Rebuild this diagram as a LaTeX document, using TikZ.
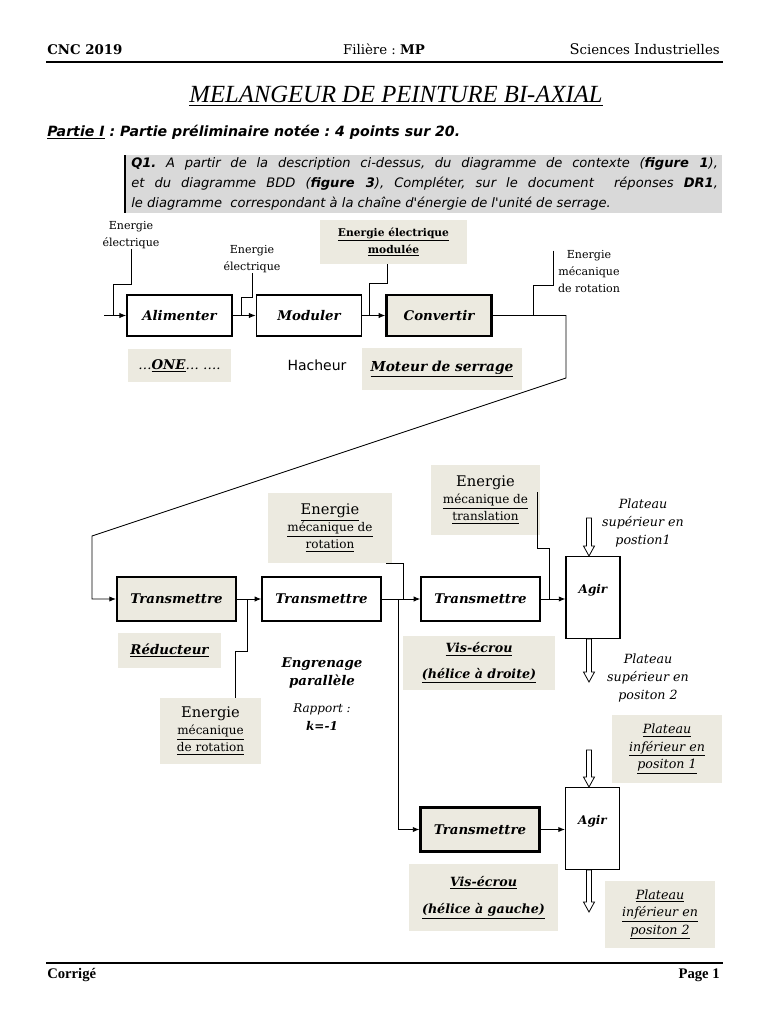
\documentclass[tikz,border=0pt]{standalone}
\usepackage{fontspec}
\setmainfont{DejaVu Serif}
\newfontfamily\titrefont{Liberation Serif}
\newfontfamily\gothfont{DejaVu Sans}
\usetikzlibrary{calc}
\usetikzlibrary{arrows.meta}
\frenchspacing

\definecolor{fond}{RGB}{236,234,224}
\definecolor{grisq}{RGB}{217,217,217}

\tikzset{
  fct/.style={draw,line width=1.3pt,minimum width=78.75pt,minimum height=30.75pt,inner sep=1pt,font=\fontsize{10}{12}\selectfont\bfseries\itshape},
  trans/.style={fct,minimum width=89pt,minimum height=33pt},
  gris/.style={fill=fond,line width=1.8pt},
  agir/.style={draw,line width=.8pt,minimum width=40.5pt,minimum height=62pt,inner sep=0pt},
  etiq/.style={fill=fond,inner sep=0pt,align=center},
  petit/.style={align=center,inner sep=0pt,font=\fontsize{8.3}{12.75}\selectfont},
  fil/.style={line width=.7pt},
  fleche/.style={fil,-{Latex[length=5pt,width=4pt]}},
  creux/.style={line width=.6pt,fill=white},
}

\begin{document}
\begin{tikzpicture}[x=0.75pt,y=-0.75pt]
\useasboundingbox (0,0) rectangle (768,1024);

% en-tete
\node[anchor=base west,inner sep=0pt,font=\fontsize{10}{12}\selectfont\bfseries] (cnc) at (47,55) {CNC 2019};
\node[anchor=base,inner sep=0pt,font=\fontsize{10}{12}\selectfont] (filiere) at (384,55) {Filière : \textbf{MP}};
\node[anchor=base east,inner sep=0pt,font=\fontsize{10}{12}\selectfont] (sci) at (720,55) {{\fontsize{11}{12}\selectfont S}ciences {\fontsize{11}{12}\selectfont I}ndustrielles};
\draw[line width=1pt] (46,62) -- (723,62);

\node[anchor=base,inner sep=0pt,font=\titrefont\itshape\fontsize{18.5}{20}\selectfont] (titre) at (396,103) {\underline{MELANGEUR DE PEINTURE BI-AXIAL}};
\node[anchor=base west,inner sep=0pt,font=\gothfont\bfseries\itshape\fontsize{10.6}{12}\selectfont] (partie) at (47,136) {\underline{Partie I} : Partie préliminaire notée : 4 points sur 20.};

% question
\fill[grisq] (125,155) rectangle (722,213);
\draw[line width=1.5pt] (125,155) -- (125,213);
\node[anchor=north west,text width=440pt,align=justify,inner sep=0pt,font=\gothfont\itshape\fontsize{9.8}{15}\selectfont] (q1) at (131,157) {\hyphenpenalty=10000 \textbf{Q1.} A partir de la description ci-dessus, du diagramme de contexte (\textbf{figure 1}),\linebreak et du diagramme BDD (\textbf{figure 3}), Compléter, sur le document~ réponses \textbf{DR1},\linebreak le diagramme~ correspondant à la chaîne d'énergie de l'unité de serrage.};

% chaine du haut
\coordinate (in) at (104,315.5);
\coordinate (jA) at (113,315.5);
\coordinate (jB) at (241,315.5);
\coordinate (jC) at (369,315.5);
\coordinate (jD) at (533,315.5);
\coordinate (c1) at (566,315.5);
\coordinate (c2) at (566,378);
\coordinate (c3) at (92,536);

\node[fct] (alim) at (179.5,315.5) {Alimenter};
\node[fct] (modul) at (309,315.5) {Moduler};
\node[fct,gris] (conv) at (439,315.5) {Convertir};

\node[petit] (ee1) at (131,235) {Energie\\électrique};
\node[petit] (ee2) at (252,259) {Energie\\électrique};
\node[etiq,minimum width=110pt,minimum height=33pt,font=\bfseries\fontsize{8}{12.75}\selectfont] (eem) at (393.5,242) {\underline{Energie électrique}\\\underline{modulée}};
\node[petit] (emr0) at (589,272) {Energie\\mécanique\\de rotation};

\draw[fleche] (in) -- (alim);
\draw[fleche] (alim) -- (modul);
\draw[fleche] (modul) -- (conv);
\draw[fil] (ee1.south) |- (113,284) -- (jA);
\draw[fil] (ee2.south) |- (241,297) -- (jB);
\draw[fil] ([xshift=-4.9pt]eem.south) |- (369,283) -- (jC);
\draw[fil] ([xshift=-3pt]emr0.north west) |- (533,285) -- (jD);

\node[etiq,minimum width=77pt,minimum height=25pt,font=\itshape\fontsize{10}{12}\selectfont] (one) at (179.5,365.5) {\ldots\underline{\textbf{ONE}}\ldots\ \ldots.};
\node[inner sep=0pt,font=\gothfont\fontsize{10.5}{12}\selectfont] (hach) at (317,365) {Hacheur};
\node[etiq,minimum width=120pt,minimum height=31.5pt,font=\bfseries\itshape\fontsize{10.3}{12}\selectfont] (moteur) at (442,369) {\underline{Moteur de serrage}};

% chaine du bas
\node[trans,gris] (trA) at (176.5,599) {Transmettre};
\node[trans] (trB) at (321.5,599) {Transmettre};
\node[trans] (trC) at (480.5,599) {Transmettre};
\node[agir,label={[font=\bfseries\itshape\fontsize{9}{11}\selectfont,yshift=5.6pt]center:Agir}] (agirA) at (593,597.5) {};
\node[trans,gris] (trD) at (480,829.5) {Transmettre};
\node[agir,label={[font=\bfseries\itshape\fontsize{9}{11}\selectfont,yshift=5.6pt]center:Agir}] (agirB) at (592.5,828.5) {};

\coordinate (jE) at (247,599);
\coordinate (jH) at (398,599);
\coordinate (jF) at (403,599);
\coordinate (jG) at (549,599);

\draw[fleche] (conv.east) -- (c1) -- (c2) -- (c3) |- (trA.west);
\draw[fleche] (trA) -- (trB);
\draw[fleche] (trB) -- (trC);
\draw[fleche] (trC.east) -- (trC.east -| agirA.west);
\draw[fleche] (jH) |- (trD.west);
\draw[fleche] (trD.east) -- (trD.east -| agirB.west);

\node[etiq,minimum width=93pt,minimum height=52.5pt,font=\fontsize{9}{12.75}\selectfont] (emr1) at (330,528) {{\fontsize{11}{12.75}\selectfont\underline{Energie}}\\\underline{mécanique de}\\\underline{rotation}};
\node[etiq,minimum width=82pt,minimum height=52.5pt,font=\fontsize{9}{12.75}\selectfont] (emt) at (485.5,500) {{\fontsize{11}{12.75}\selectfont Energie}\\\underline{mécanique de}\\\underline{translation}};
\node[etiq,minimum width=77pt,minimum height=26pt,font=\bfseries\itshape\fontsize{10}{12}\selectfont] (reduc) at (169.5,650.5) {\underline{Réducteur}};
\node[etiq,minimum width=76pt,minimum height=49.5pt,font=\fontsize{9}{12.75}\selectfont] (emr2) at (210.5,731) {{\fontsize{11}{12.75}\selectfont Energie}\\\underline{mécanique}\\\underline{de rotation}};

\draw[fil] ([xshift=-4.5pt]emr1.south east) -| (jF);
\draw[fil] ([xshift=-2.2pt,yshift=6pt]emt.east) |- (549,548) -- (jG);
\draw[fil] ([xshift=18.4pt]emr2.north) |- (247,651) -- (jE);

\node[align=center,inner sep=0pt,font=\bfseries\itshape\fontsize{10}{13.5}\selectfont] (engr) at (322,673) {Engrenage\\parallèle};
\node[align=center,inner sep=0pt,font=\itshape\fontsize{9}{13.5}\selectfont] (rapport) at (322,717) {Rapport :\\\textbf{k=-1}};

\node[etiq,minimum width=114pt,minimum height=40.5pt,font=\bfseries\itshape\fontsize{9.5}{19.5}\selectfont] (visd) at (479,663) {\underline{Vis-écrou}\\\underline{(hélice à droite)}};
\node[etiq,minimum width=112pt,minimum height=50pt,font=\bfseries\itshape\fontsize{9.5}{20}\selectfont] (visg) at (483.5,897.5) {\underline{Vis-écrou}\\\underline{(hélice à gauche)}};

\node[align=center,inner sep=0pt,font=\itshape\fontsize{9.5}{13.5}\selectfont] (psup1) at (643,523) {Plateau\\supérieur en\\postion1};
\node[align=center,inner sep=0pt,font=\itshape\fontsize{9.5}{13.5}\selectfont] (psup2) at (648,678) {Plateau\\supérieur en\\positon 2};
\node[etiq,minimum width=82.5pt,minimum height=51pt,font=\itshape\fontsize{9.5}{13}\selectfont] (pinf1) at (667,749) {\underline{Plateau}\\\underline{inférieur en}\\\underline{positon 1}};
\node[etiq,minimum width=82.5pt,minimum height=50pt,font=\itshape\fontsize{9.5}{13}\selectfont] (pinf2) at (660,914.5) {\underline{Plateau}\\\underline{inférieur en}\\\underline{positon 2}};

% fleches creuses
\foreach \xa/\ya/\yb in {589/518/556, 589/639/682, 589/750/787, 589/870/912}
  \draw[creux] (\xa-2.5,\ya) -- (\xa-2.5,\yb-10) -- (\xa-5.5,\yb-10) -- (\xa,\yb) -- (\xa+5.5,\yb-10) -- (\xa+2.5,\yb-10) -- (\xa+2.5,\ya) -- cycle;

% pied de page
\draw[line width=1pt] (46,963) -- (723,963);
\node[anchor=base west,inner sep=0pt,font=\titrefont\bfseries\fontsize{11}{12}\selectfont] (corr) at (47,978) {Corrigé};
\node[anchor=base east,inner sep=0pt,font=\titrefont\bfseries\fontsize{11}{12}\selectfont] (page) at (720,978) {Page 1};

\end{tikzpicture}
\end{document}
